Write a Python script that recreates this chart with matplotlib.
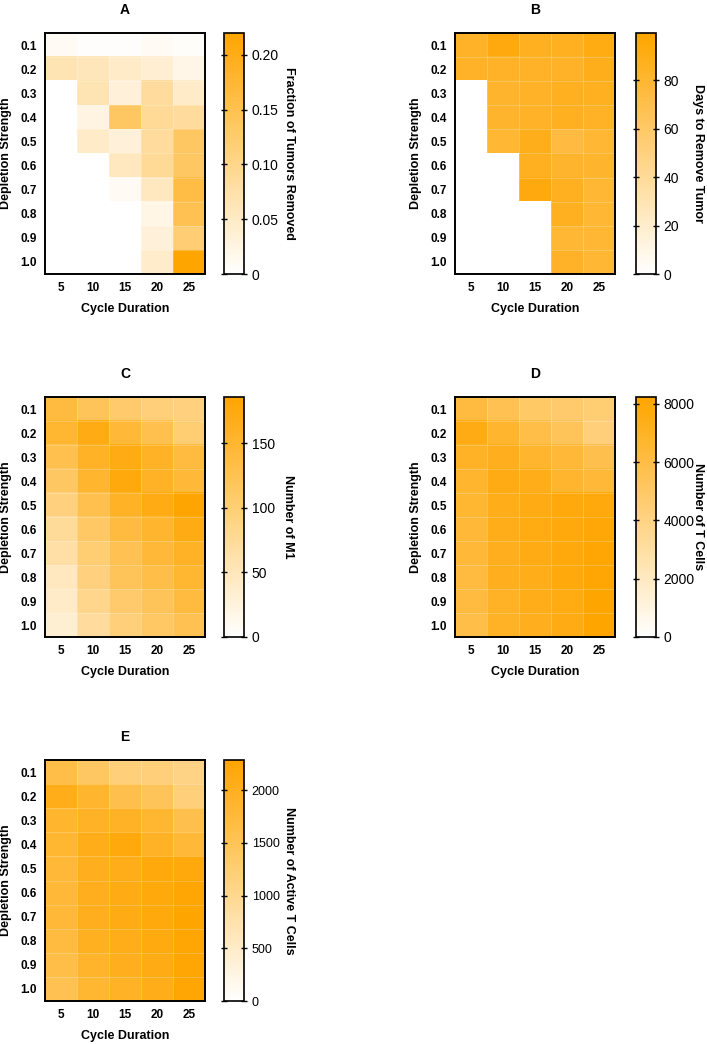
import numpy as np
import matplotlib
matplotlib.use("Agg")
import matplotlib.pyplot as plt
from matplotlib.colors import LinearSegmentedColormap

plt.rcParams['font.family'] = ['Liberation Sans', 'DejaVu Sans']

nan = np.nan

# axes values
cycle_duration = [5, 10, 15, 20, 25]
depletion = ["0.1", "0.2", "0.3", "0.4", "0.5", "0.6", "0.7", "0.8", "0.9", "1.0"]

# A: fraction of tumors removed (rows = depletion strength, cols = cycle duration)
frac_removed = [
    [0.010, 0.004, 0.004, 0.010, 0.005],
    [0.065, 0.060, 0.048, 0.040, 0.020],
    [nan, 0.065, 0.033, 0.085, 0.048],
    [nan, 0.025, 0.135, 0.090, 0.085],
    [nan, 0.048, 0.033, 0.085, 0.135],
    [nan, nan, 0.055, 0.090, 0.135],
    [nan, nan, 0.010, 0.055, 0.160],
    [nan, nan, nan, 0.022, 0.150],
    [nan, nan, nan, 0.033, 0.120],
    [nan, nan, nan, 0.045, 0.220],
]

# B: days to remove tumor
days_remove = [
    [84, 94, 87, 87, 92],
    [84, 84, 84, 84, 89],
    [nan, 82, 84, 87, 87],
    [nan, 82, 84, 87, 85],
    [nan, 79, 89, 74, 79],
    [nan, nan, 87, 82, 82],
    [nan, nan, 94, 87, 79],
    [nan, nan, nan, 87, 79],
    [nan, nan, nan, 79, 79],
    [nan, nan, nan, 84, 79],
]

# C: number of M1
num_m1 = [
    [140, 121, 108, 97, 93],
    [149, 171, 145, 130, 102],
    [130, 158, 171, 158, 140],
    [115, 152, 177, 158, 145],
    [93, 130, 158, 171, 184],
    [74, 112, 140, 152, 171],
    [65, 102, 126, 145, 158],
    [47, 93, 121, 134, 149],
    [41, 84, 108, 121, 140],
    [33, 71, 97, 112, 126],
]

# D: number of T cells
num_t = [
    [6170, 5600, 4940, 4770, 4530],
    [7570, 6750, 5930, 5350, 4280],
    [7000, 7240, 6750, 6420, 5760],
    [6750, 7570, 7400, 6750, 6420],
    [6580, 7400, 7570, 7820, 7820],
    [6420, 7400, 7650, 7820, 7980],
    [6420, 7240, 7570, 7820, 8070],
    [6170, 7240, 7400, 7820, 8070],
    [6170, 7000, 7400, 7650, 8230],
    [5930, 7000, 7240, 7570, 8230],
]

# E: number of active T cells
num_active_t = [
    [1645, 1417, 1188, 1188, 1097],
    [2056, 1874, 1600, 1485, 1188],
    [1874, 1942, 1942, 1828, 1600],
    [1828, 2056, 2170, 1942, 1782],
    [1782, 2010, 2056, 2170, 2170],
    [1782, 2010, 2100, 2170, 2240],
    [1782, 2010, 2100, 2170, 2285],
    [1714, 1988, 2056, 2125, 2240],
    [1645, 1897, 2010, 2100, 2240],
    [1554, 1828, 1942, 2056, 2240],
]

cmap = LinearSegmentedColormap.from_list("wo", ["#FFFFFF", "#FFA500"])

W, H = 707, 1044
fig = plt.figure(figsize=(W / 100, H / 100), dpi=100)


def px(x0, y0, x1, y1):
    return [x0 / W, 1 - y1 / H, (x1 - x0) / W, (y1 - y0) / H]


def panel(data, title, vmax, ticks, ticklabels, cbar_label, hx, cx, y0, y1,
          labelpad=8, cb_fs=10):
    ax = fig.add_axes(px(hx, y0, hx + 160, y1))
    cax = fig.add_axes(px(cx, y0, cx + 20, y1))
    arr = np.array(data, dtype=float)
    im = ax.imshow(arr, cmap=cmap, vmin=0, vmax=vmax, aspect='auto',
                   interpolation='nearest')
    nr, nc = arr.shape
    # faint cell borders
    for i in range(1, nr):
        ax.axhline(i - 0.5, color='white', lw=0.6, alpha=0.25)
    for j in range(1, nc):
        ax.axvline(j - 0.5, color='white', lw=0.6, alpha=0.25)
    ax.set_xticks(range(len(cycle_duration)))
    ax.set_xticklabels([str(c) for c in cycle_duration], fontweight='bold', fontsize=8.5)
    ax.set_yticks(range(len(depletion)))
    ax.set_yticklabels(depletion, fontweight='bold', fontsize=8.5)
    ax.tick_params(length=0, pad=6)
    for s in ax.spines.values():
        s.set_linewidth(1.4)
    ax.set_title(title, fontweight='bold', fontsize=10, pad=14)
    ax.set_ylabel("Depletion Strength", fontweight='bold', fontsize=9, labelpad=6)
    ax.set_xlabel("Cycle Duration", fontweight='bold', fontsize=9, labelpad=6)

    cb = fig.colorbar(im, cax=cax)
    cb.set_ticks(ticks)
    cb.set_ticklabels(ticklabels)
    cb.outline.set_linewidth(1.2)
    cax.tick_params(labelsize=cb_fs, length=4, width=1.0, direction='inout',
                    left=True, right=True)
    cb.set_label(cbar_label, rotation=270, fontweight='bold', fontsize=9,
                 labelpad=labelpad)
    return ax


panel(frac_removed, "A", 0.22, [0, 0.05, 0.10, 0.15, 0.20],
      ["0", "0.05", "0.10", "0.15", "0.20"], "Fraction of Tumors Removed",
      45, 224, 33, 274, labelpad=12)
panel(days_remove, "B", 99.5, [0, 20, 40, 60, 80],
      ["0", "20", "40", "60", "80"], "Days to Remove Tumor",
      455, 636, 33, 274, labelpad=18)
panel(num_m1, "C", 186, [0, 50, 100, 150],
      ["0", "50", "100", "150"], "Number of M1",
      45, 224, 397, 637, labelpad=14)
panel(num_t, "D", 8230, [0, 2000, 4000, 6000, 8000],
      ["0", "2000", "4000", "6000", "8000"], "Number of T Cells",
      455, 636, 397, 637, labelpad=7)
panel(num_active_t, "E", 2285, [0, 500, 1000, 1500, 2000],
      ["0", "500", "1000", "1500", "2000"], "Number of Active T Cells",
      45, 224, 760, 1001, labelpad=11, cb_fs=9)

fig.savefig("out.png", dpi=100)
